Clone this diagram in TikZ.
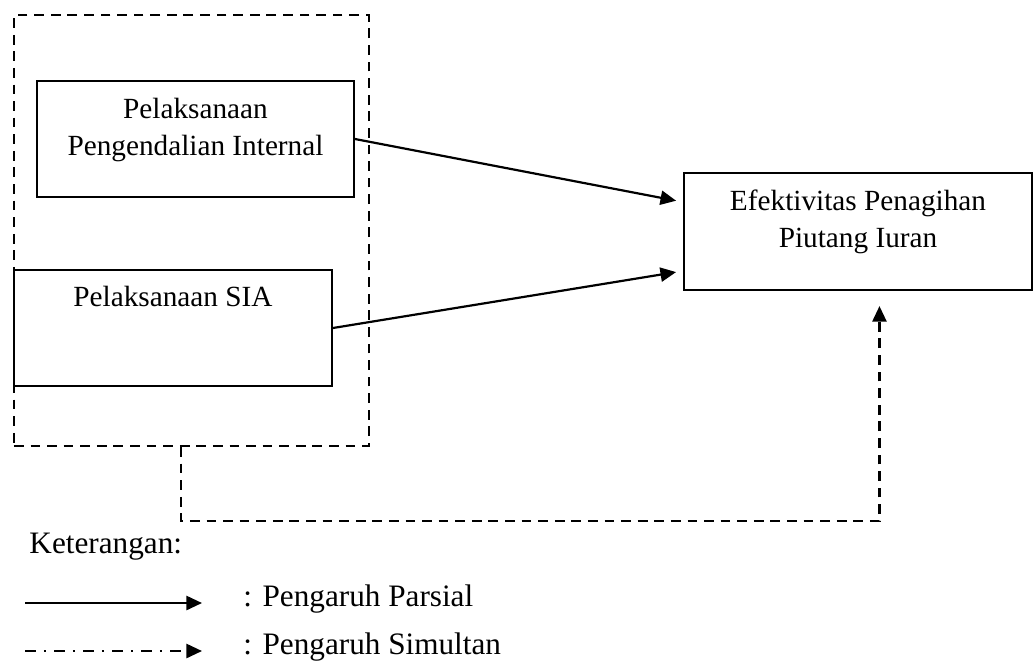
\documentclass[tikz,border=0pt]{standalone}
\usepackage{fontspec}
\setmainfont{Liberation Serif}
\usepackage{tikz}
\usetikzlibrary{positioning, arrows.meta, calc}

\begin{document}
\begin{tikzpicture}[
		x=0.41pt, y=-0.41pt,
		font=\fontsize{12pt}{15.2pt}\selectfont,
		box/.style={draw, rectangle, line width=0.75pt, align=center},
		group/.style={draw, rectangle, line width=0.9pt, dash pattern=on 4pt off 2.8pt},
		arrow/.style={-{Triangle[length=6.4pt, width=5.8pt]}, line width=0.9pt},
		simarrow/.style={arrow, dash pattern=on 4pt off 2.8pt},
		legend/.style={anchor=base west, inner sep=0pt, font=\fontsize{12.8pt}{15.2pt}\selectfont}
		]
		\useasboundingbox (0,0) rectangle (1034,668);
		
		% Nodes
		\node[group, minimum width=145.6pt, minimum height=176.7pt] (grp) at (191.5,230.5) {};
		
		\node[box, minimum width=130pt, minimum height=47.6pt, text height=23.4pt, text depth=9.5pt] (spi) at (195.5,139) {Pelaksanaan\\Pengendalian Internal};
		
		\node[box, minimum width=130.4pt, minimum height=47.6pt, text height=8.2pt, text depth=26.2pt] (sia) at (173,328) {Pelaksanaan SIA};
		
		\node[box, minimum width=142.7pt, minimum height=48pt, text height=23.4pt, text depth=9.9pt] (efk) at (858,231.5) {Efektivitas Penagihan\\Piutang Iuran};
		
		% Legend
		\node[legend] (ket) at (29,553) {Keterangan:};
		\node[legend] (parTxt) at (243,606) {: Pengaruh Parsial};
		\node[legend] (simTxt) at (243,654) {: Pengaruh Simultan};
		\coordinate (parS) at (25,603);
		\coordinate (parE) at (202,603);
		\coordinate (simS) at (25,651);
		\coordinate (simE) at (202,651);
		
		% Arrows
		\draw[arrow, shorten >=2.9pt] (spi.east) -- ([yshift=-12.3pt]efk.north west);
		
		\draw[arrow, shorten >=2.9pt] (sia.east) -- ([yshift=8.2pt]efk.south west);
		
		\draw[simarrow, shorten >=6.2pt] ([xshift=-4.3pt]grp.south) -- ++(0,74) -| ([xshift=8.8pt]efk.south);
		
		\draw[arrow] (parS) -- (parE);
		\draw[arrow, dash pattern=on 4.5pt off 3.2pt on 1pt off 3.2pt] (simS) -- (simE);
		
	\end{tikzpicture}
\end{document}
